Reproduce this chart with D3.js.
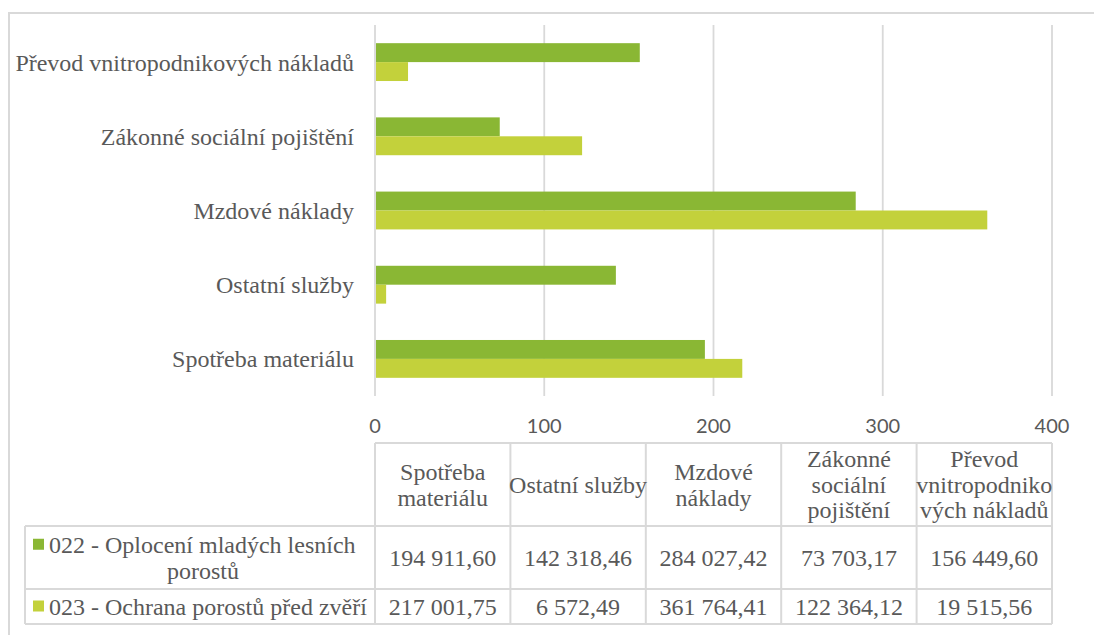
<!DOCTYPE html>
<html><head><meta charset="utf-8">
<script src="https://cdn.jsdelivr.net/npm/d3@7"></script>
</head><body style="margin:0">
<svg id="chart" width="1094" height="635"></svg>
<script>
const categories = ["Spotřeba materiálu","Ostatní služby","Mzdové náklady","Zákonné sociální pojištění","Převod vnitropodnikových nákladů"];
const headerLabels = [["Spotřeba","materiálu"],["Ostatní služby"],["Mzdové","náklady"],["Zákonné","sociální","pojištění"],["Převod","vnitropodniko","vých nákladů"]];
const seriesNames = [["022 - Oplocení mladých lesních","porostů"],["023 - Ochrana porostů před zvěří"]];
const series022 = [194911.60,142318.46,284027.42,73703.17,156449.60];
const series023 = [217001.75,6572.49,361764.41,122364.12,19515.56];
const tickValues = [0,100,200,300,400];
const colors = ["#8ab734","#c3d13b"];

const svg = d3.select("#chart");
const gray = "#595959", grid = "#d9d9d9";
const serif = '"Liberation Serif", monospace';
const FS = 24;

// frame
svg.append("path").attr("d","M9,635 V13 H1094").attr("fill","none").attr("stroke",grid).attr("stroke-width",2);

const x = d3.scaleLinear().domain([0,400]).range([375,1052]);
const y = d3.scaleBand().domain(categories.slice().reverse()).range([25,396]).paddingInner(0.49).paddingOuter(0.245);
const ys = d3.scaleBand().domain([0,1]).range([0,y.bandwidth()]);

// grid
svg.append("g").selectAll("line").data(tickValues).join("line")
  .attr("x1",d=>x(d)).attr("x2",d=>x(d)).attr("y1",25).attr("y2",396)
  .attr("stroke",grid).attr("stroke-width",1.8);

const allSeries = [series022, series023];
allSeries.forEach((vals,si)=>{
  svg.append("g").selectAll("rect").data(categories).join("rect")
    .attr("x",x(0)+1)
    .attr("y",(c)=>y(c)+ys(si))
    .attr("width",(c,i)=>x(vals[i]/1000)-x(0)-1)
    .attr("height",ys.bandwidth())
    .attr("fill",colors[si]);
});

function txt(sel){ return sel.style("font-family",serif).attr("font-size",FS).attr("fill",gray); }

// category labels
svg.append("g").selectAll("text").data(categories).join("text")
  .attr("x",354).attr("y",c=>y(c)+y.bandwidth()/2)
  .attr("dy","0.35em").attr("text-anchor","end")
  .call(txt).text(d=>d);

// tick labels
svg.append("g").selectAll("text").data(tickValues).join("text")
  .attr("x",d=>x(d)).attr("y",426).attr("dy","0.35em").attr("text-anchor","middle")
  .style("font-family",'"Lato", sans-serif').attr("font-size",20).attr("fill",gray).text(d=>d);

// table
const colX = d3.scaleBand().domain(categories).range([375,1052]);
const tY0 = 443, tY1 = 526, tY2 = 589, tY3 = 624, tLeft = 25;
const tg = svg.append("g").attr("stroke",grid).attr("stroke-width",2).attr("fill","none");
tg.append("line").attr("x1",375).attr("x2",1052).attr("y1",tY0).attr("y2",tY0);
tg.append("line").attr("x1",tLeft).attr("x2",1052).attr("y1",tY1).attr("y2",tY1);
tg.append("line").attr("x1",tLeft).attr("x2",1052).attr("y1",tY2).attr("y2",tY2);
tg.append("line").attr("x1",tLeft).attr("x2",1052).attr("y1",tY3).attr("y2",tY3);
tg.append("line").attr("x1",tLeft).attr("x2",tLeft).attr("y1",tY1).attr("y2",tY3);
tg.selectAll("line.v").data(tickValues).join("line").attr("class","v")
  .attr("x1",(d,i)=>375+i*colX.bandwidth()).attr("x2",(d,i)=>375+i*colX.bandwidth())
  .attr("y1",tY0).attr("y2",tY3);
tg.append("line").attr("x1",1052).attr("x2",1052).attr("y1",tY0).attr("y2",tY3);

const lh = 25.5;
// headers
categories.forEach((c,i)=>{
  const lines = headerLabels[i];
  const cx = colX(c)+colX.bandwidth()/2;
  const cy = (tY0+tY1)/2;
  lines.forEach((l,j)=>{
    svg.append("text").attr("x",cx).attr("y",cy+(j-(lines.length-1)/2)*lh)
      .attr("dy","0.35em").attr("text-anchor","middle")
      .call(txt).text(l);
  });
});

const fmt = v => {
  const s = v.toFixed(2).split(".");
  return s[0].replace(/\B(?=(\d{3})+(?!\d))/g," ")+","+s[1];
};
const rowsY = [[tY1,tY2],[tY2,tY3]];
allSeries.forEach((vals,si)=>{
  const cy = (rowsY[si][0]+rowsY[si][1])/2;
  categories.forEach((c,i)=>{
    svg.append("text").attr("x",colX(c)+colX.bandwidth()/2).attr("y",cy).attr("dy","0.35em")
      .attr("text-anchor","middle").call(txt)
      .text(fmt(vals[i]));
  });
  const lines = seriesNames[si];
  svg.append("rect").attr("x",33).attr("y",cy-(lines.length-1)/2*lh-6).attr("width",11).attr("height",11).attr("fill",colors[si]);
  lines.forEach((l,j)=>{
    const t = svg.append("text").attr("y",cy+(j-(lines.length-1)/2)*lh).attr("dy","0.35em")
      .call(txt).text(l);
    if(j===0) t.attr("x",49); else t.attr("x",203).attr("text-anchor","middle");
  });
});
</script>
</body></html>
